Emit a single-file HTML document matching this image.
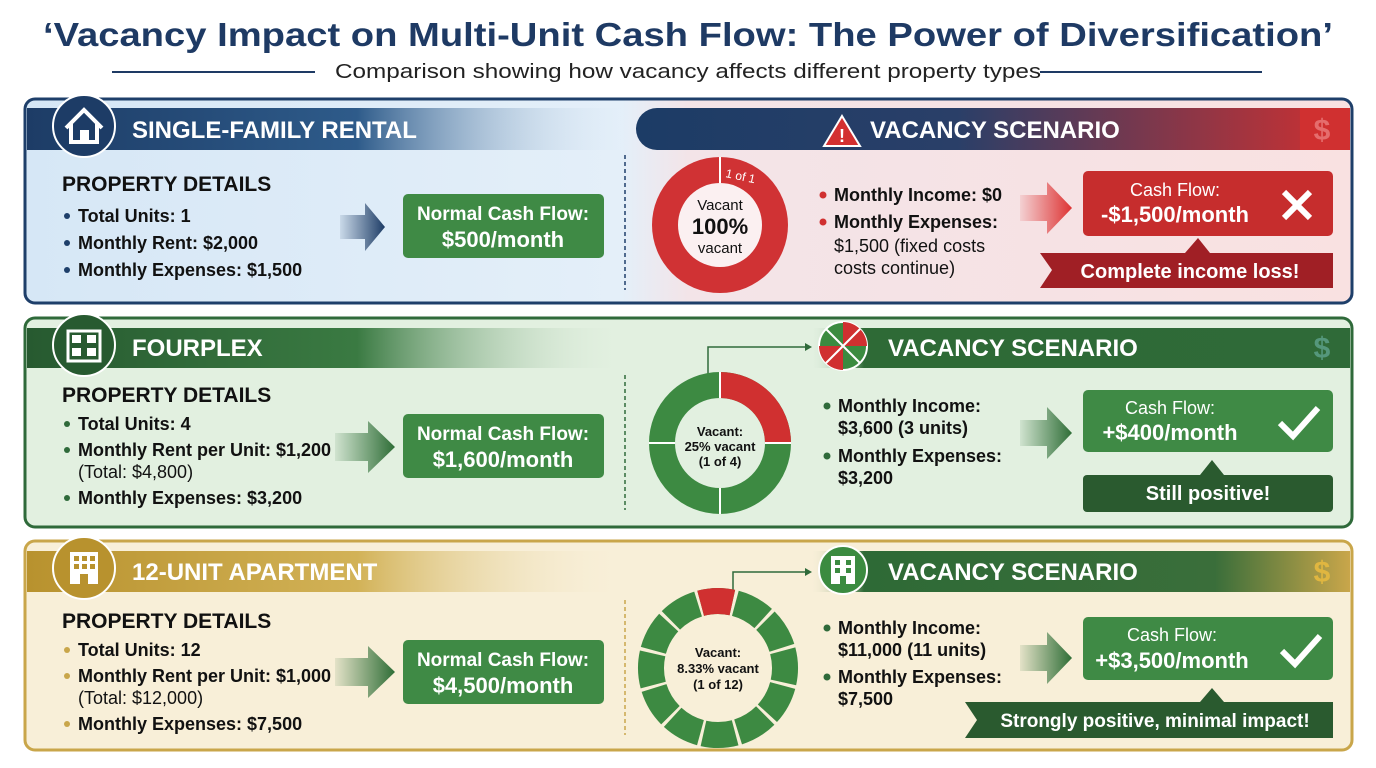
<!DOCTYPE html>
<html><head><meta charset="utf-8"><style>
html,body{margin:0;padding:0;background:#fff;}
svg{display:block;font-family:"Liberation Sans",sans-serif;}
</style></head><body>
<svg width="1376" height="768" viewBox="0 0 1376 768" xmlns="http://www.w3.org/2000/svg">
<defs>
<linearGradient id="hb1" x1="0" x2="1"><stop offset="0" stop-color="#1d3c66"/><stop offset="0.55" stop-color="#2e5b8a"/><stop offset="1" stop-color="#d8e8f6" stop-opacity="0"/></linearGradient>
<linearGradient id="hr1" x1="0" x2="1"><stop offset="0" stop-color="#1c3c66"/><stop offset="0.45" stop-color="#2a3f68"/><stop offset="1" stop-color="#d03030"/></linearGradient>
<linearGradient id="hb2" x1="0" x2="1"><stop offset="0" stop-color="#275a30"/><stop offset="0.55" stop-color="#3a7a42"/><stop offset="1" stop-color="#e2f0e0" stop-opacity="0"/></linearGradient>
<linearGradient id="hr2" x1="0" x2="1"><stop offset="0" stop-color="#e2f0e0" stop-opacity="0"/><stop offset="0.1" stop-color="#2e6a36"/><stop offset="1" stop-color="#2f6a38"/></linearGradient>
<linearGradient id="hb3" x1="0" x2="1"><stop offset="0" stop-color="#b8922e"/><stop offset="0.55" stop-color="#d2b257"/><stop offset="1" stop-color="#f8efd8" stop-opacity="0"/></linearGradient>
<linearGradient id="hr3" x1="0" x2="1"><stop offset="0" stop-color="#f8efd8" stop-opacity="0"/><stop offset="0.1" stop-color="#2e6a36"/><stop offset="0.75" stop-color="#3a6e3a"/><stop offset="1" stop-color="#c9a64a"/></linearGradient>
<linearGradient id="bg1" x1="0" x2="1"><stop offset="0" stop-color="#d6e7f6"/><stop offset="0.45" stop-color="#e4eff9"/><stop offset="0.5" stop-color="#f3e4e8"/><stop offset="1" stop-color="#f9e1e1"/></linearGradient>
<linearGradient id="aN" x1="0" x2="1"><stop offset="0" stop-color="#1d3c66" stop-opacity="0.1"/><stop offset="1" stop-color="#1d3c66"/></linearGradient>
<linearGradient id="aG" x1="0" x2="1"><stop offset="0" stop-color="#2f6e37" stop-opacity="0.1"/><stop offset="1" stop-color="#2f6e37"/></linearGradient>
<linearGradient id="aR" x1="0" x2="1"><stop offset="0" stop-color="#d33" stop-opacity="0.1"/><stop offset="1" stop-color="#d33"/></linearGradient>
</defs>

<text x="688" y="46" text-anchor="middle" font-size="33" font-weight="bold" fill="#1e3a64" textLength="1290" lengthAdjust="spacingAndGlyphs">‘Vacancy Impact on Multi-Unit Cash Flow: The Power of Diversification’</text>
<line x1="112" y1="72" x2="315" y2="72" stroke="#1e3a64" stroke-width="2"/>
<line x1="1040" y1="72" x2="1262" y2="72" stroke="#1e3a64" stroke-width="2"/>
<text x="688" y="78" text-anchor="middle" font-size="20" fill="#222" textLength="706" lengthAdjust="spacingAndGlyphs">Comparison showing how vacancy affects different property types</text>

<!-- PANEL 1 -->
<rect x="25" y="99" width="1327" height="204" rx="10" fill="url(#bg1)" stroke="#1e3f6a" stroke-width="3"/>
<rect x="27" y="108" width="600" height="42" fill="url(#hb1)"/>
<rect x="636" y="108" width="714" height="42" rx="21" fill="url(#hr1)"/>
<rect x="1300" y="108" width="50" height="42" fill="#d03030"/>
<circle cx="84" cy="126" r="31" fill="#1d3c66" stroke="#fff" stroke-width="2"/>
<path d="M66 128 L84 110 L102 128 M71 124 V142 H97 V124" fill="none" stroke="#fff" stroke-width="4"/>
<rect x="80" y="130" width="9" height="12" fill="#fff"/>
<text x="132" y="138" font-size="24" font-weight="bold" fill="#fff">SINGLE-FAMILY RENTAL</text>
<path d="M842 116 L860 146 H824 Z" fill="#d33030" stroke="#fff" stroke-width="2"/>
<text x="842" y="142" text-anchor="middle" font-size="18" font-weight="bold" fill="#fff">!</text>
<text x="870" y="138" font-size="24" font-weight="bold" fill="#fff">VACANCY SCENARIO</text>
<text x="1322" y="140" text-anchor="middle" font-size="30" font-weight="bold" fill="#e88" opacity="0.7">$</text>
<text x="62" y="191" font-size="21" font-weight="bold" fill="#111">PROPERTY DETAILS</text>
<g font-size="18" font-weight="bold" fill="#111">
<circle cx="67" cy="216" r="3" fill="#1e3f6a"/><text x="78" y="222">Total Units: 1</text>
<circle cx="67" cy="243" r="3" fill="#1e3f6a"/><text x="78" y="249">Monthly Rent: $2,000</text>
<circle cx="67" cy="270" r="3" fill="#1e3f6a"/><text x="78" y="276">Monthly Expenses: $1,500</text>
</g>
<path d="M340 215 H365 V203 L385 227 L365 251 V239 H340 Z" fill="url(#aN)"/>
<rect x="403" y="194" width="201" height="64" rx="5" fill="#3f8a45"/>
<text x="503" y="220" text-anchor="middle" font-size="19" font-weight="bold" fill="#fff">Normal Cash Flow:</text>
<text x="503" y="247" text-anchor="middle" font-size="22" font-weight="bold" fill="#fff">$500/month</text>
<line x1="625" y1="155" x2="625" y2="290" stroke="#1e3f6a" stroke-width="1.5" stroke-dasharray="4 3"/>
<circle cx="720" cy="225" r="68" fill="#d03234"/>
<circle cx="720" cy="225" r="42" fill="#fbf0f1"/>
<line x1="720" y1="157" x2="720" y2="183" stroke="#fff" stroke-width="2"/>
<text x="725" y="177" font-size="12" fill="#fff" transform="rotate(12 725 177)">1 of 1</text>
<text x="720" y="210" text-anchor="middle" font-size="15" fill="#111">Vacant</text>
<text x="720" y="234" text-anchor="middle" font-size="22" font-weight="bold" fill="#111">100%</text>
<text x="720" y="253" text-anchor="middle" font-size="15" fill="#111">vacant</text>
<g font-size="18" font-weight="bold" fill="#111">
<circle cx="823" cy="195" r="3.5" fill="#d03030"/><text x="834" y="201">Monthly Income: $0</text>
<circle cx="823" cy="222" r="3.5" fill="#d03030"/><text x="834" y="228">Monthly Expenses:</text>
<text x="834" y="252" font-weight="normal">$1,500 (fixed costs</text>
<text x="834" y="274" font-weight="normal">costs continue)</text>
</g>
<path d="M1020 195 H1047 V182 L1072 208 L1047 234 V221 H1020 Z" fill="url(#aR)"/>
<rect x="1083" y="171" width="250" height="65" rx="5" fill="#c62d2d"/>
<text x="1175" y="196" text-anchor="middle" font-size="18" fill="#fff">Cash Flow:</text>
<text x="1175" y="222" text-anchor="middle" font-size="22" font-weight="bold" fill="#fff">-$1,500/month</text>
<path d="M1284 192 L1310 218 M1310 192 L1284 218" stroke="#fff" stroke-width="6"/>
<path d="M1040 253 H1333 V288 H1040 L1052 270 Z" fill="#a01f25"/>
<path d="M1185 253 L1198 238 L1210 253 Z" fill="#a01f25"/>
<text x="1190" y="278" text-anchor="middle" font-size="20" font-weight="bold" fill="#fff">Complete income loss!</text>

<!-- PANEL 2 -->
<rect x="25" y="318" width="1327" height="209" rx="10" fill="#e2f0e0" stroke="#2f6a3a" stroke-width="3"/>
<rect x="27" y="328" width="600" height="40" fill="url(#hb2)"/>
<rect x="810" y="328" width="540" height="40" fill="url(#hr2)"/>
<circle cx="84" cy="345" r="31" fill="#275a30" stroke="#fff" stroke-width="2"/>
<rect x="68" y="331" width="32" height="30" fill="none" stroke="#fff" stroke-width="3"/>
<rect x="72" y="335" width="9" height="8" fill="#fff"/><rect x="87" y="335" width="9" height="8" fill="#fff"/>
<rect x="72" y="348" width="9" height="8" fill="#fff"/><rect x="87" y="348" width="9" height="8" fill="#fff"/>
<text x="132" y="356" font-size="24" font-weight="bold" fill="#fff">FOURPLEX</text>
<circle cx="843" cy="346" r="24" fill="#3b8b40" stroke="#fff" stroke-width="2"/>
<path d="M843 346 L843 322 A24 24 0 0 1 867 346 Z" fill="#d03030"/>
<path d="M843 346 L819 346 A24 24 0 0 0 843 370 Z" fill="#d03030"/>
<line x1="826" y1="329" x2="860" y2="363" stroke="#fff" stroke-width="2"/><line x1="860" y1="329" x2="826" y2="363" stroke="#fff" stroke-width="2"/>
<text x="888" y="356" font-size="24" font-weight="bold" fill="#fff">VACANCY SCENARIO</text>
<text x="1322" y="358" text-anchor="middle" font-size="30" font-weight="bold" fill="#6a9" opacity="0.7">$</text>
<polyline points="708,394 708,347 805,347" fill="none" stroke="#2f6a3a" stroke-width="1.5"/>
<path d="M805 343 L812 347 L805 351 Z" fill="#2f6a3a"/>
<text x="62" y="402" font-size="21" font-weight="bold" fill="#111">PROPERTY DETAILS</text>
<g font-size="18" font-weight="bold" fill="#111">
<circle cx="67" cy="424" r="3" fill="#2f6a3a"/><text x="78" y="430">Total Units: 4</text>
<circle cx="67" cy="450" r="3" fill="#2f6a3a"/><text x="78" y="456">Monthly Rent per Unit: $1,200</text>
<text x="78" y="478" font-weight="normal">(Total: $4,800)</text>
<circle cx="67" cy="498" r="3" fill="#2f6a3a"/><text x="78" y="504">Monthly Expenses: $3,200</text>
</g>
<path d="M335 433 H368 V421 L395 447 L368 473 V461 H335 Z" fill="url(#aG)"/>
<rect x="403" y="414" width="201" height="64" rx="5" fill="#3f8a45"/>
<text x="503" y="440" text-anchor="middle" font-size="19" font-weight="bold" fill="#fff">Normal Cash Flow:</text>
<text x="503" y="467" text-anchor="middle" font-size="22" font-weight="bold" fill="#fff">$1,600/month</text>
<line x1="625" y1="375" x2="625" y2="510" stroke="#2f6a3a" stroke-width="1.5" stroke-dasharray="4 3"/>
<circle cx="720" cy="443" r="58" fill="none" stroke="#3d8a42" stroke-width="26"/>
<path d="M720 372 A71 71 0 0 1 791 443 L765 443 A45 45 0 0 0 720 398 Z" fill="#d03030"/>
<line x1="720" y1="372" x2="720" y2="398" stroke="#fff" stroke-width="2"/>
<line x1="791" y1="443" x2="765" y2="443" stroke="#fff" stroke-width="2"/>
<line x1="649" y1="443" x2="675" y2="443" stroke="#fff" stroke-width="2"/>
<line x1="720" y1="514" x2="720" y2="488" stroke="#fff" stroke-width="2"/>
<text x="720" y="436" text-anchor="middle" font-size="13" font-weight="bold" fill="#111">Vacant:</text>
<text x="720" y="451" text-anchor="middle" font-size="13" font-weight="bold" fill="#111">25% vacant</text>
<text x="720" y="466" text-anchor="middle" font-size="13" font-weight="bold" fill="#111">(1 of 4)</text>
<g font-size="18" font-weight="bold" fill="#111">
<circle cx="827" cy="406" r="3.5" fill="#2f6a3a"/><text x="838" y="412">Monthly Income:</text>
<text x="838" y="434">$3,600 (3 units)</text>
<circle cx="827" cy="456" r="3.5" fill="#2f6a3a"/><text x="838" y="462">Monthly Expenses:</text>
<text x="838" y="484">$3,200</text>
</g>
<path d="M1020 420 H1047 V407 L1072 433 L1047 459 V446 H1020 Z" fill="url(#aG)"/>
<rect x="1083" y="390" width="250" height="62" rx="5" fill="#3f8a45"/>
<text x="1170" y="414" text-anchor="middle" font-size="18" fill="#fff">Cash Flow:</text>
<text x="1170" y="440" text-anchor="middle" font-size="22" font-weight="bold" fill="#fff">+$400/month</text>
<path d="M1280 423 L1293 436 L1318 408" fill="none" stroke="#fff" stroke-width="6"/>
<rect x="1083" y="475" width="250" height="37" rx="4" fill="#2a5a2f"/>
<path d="M1200 475 L1212 460 L1224 475 Z" fill="#2a5a2f"/>
<text x="1208" y="500" text-anchor="middle" font-size="20" font-weight="bold" fill="#fff">Still positive!</text>

<!-- PANEL 3 -->
<rect x="25" y="541" width="1327" height="209" rx="10" fill="#f8efd8" stroke="#c9a64a" stroke-width="3"/>
<rect x="27" y="551" width="600" height="41" fill="url(#hb3)"/>
<rect x="810" y="551" width="540" height="41" fill="url(#hr3)"/>
<circle cx="84" cy="568" r="31" fill="#b8922e" stroke="#fff" stroke-width="2"/>
<rect x="70" y="552" width="28" height="32" fill="#fff"/>
<g fill="#b8922e"><rect x="74" y="556" width="5" height="5"/><rect x="82" y="556" width="5" height="5"/><rect x="90" y="556" width="5" height="5"/><rect x="74" y="564" width="5" height="5"/><rect x="82" y="564" width="5" height="5"/><rect x="90" y="564" width="5" height="5"/><rect x="80" y="574" width="8" height="10"/></g>
<text x="132" y="580" font-size="24" font-weight="bold" fill="#fff">12-UNIT APARTMENT</text>
<circle cx="843" cy="570" r="24" fill="#3b8b40" stroke="#fff" stroke-width="2"/>
<rect x="831" y="556" width="24" height="28" fill="#fff"/>
<g fill="#3b8b40"><rect x="835" y="560" width="5" height="5"/><rect x="846" y="560" width="5" height="5"/><rect x="835" y="568" width="5" height="5"/><rect x="846" y="568" width="5" height="5"/><rect x="840" y="576" width="6" height="8"/></g>
<text x="888" y="580" font-size="24" font-weight="bold" fill="#fff">VACANCY SCENARIO</text>
<text x="1322" y="582" text-anchor="middle" font-size="30" font-weight="bold" fill="#e0b640">$</text>
<polyline points="733,594 733,572 805,572" fill="none" stroke="#2f6a3a" stroke-width="1.5"/>
<path d="M805 568 L812 572 L805 576 Z" fill="#2f6a3a"/>
<text x="62" y="628" font-size="21" font-weight="bold" fill="#111">PROPERTY DETAILS</text>
<g font-size="18" font-weight="bold" fill="#111">
<circle cx="67" cy="650" r="3" fill="#c9a64a"/><text x="78" y="656">Total Units: 12</text>
<circle cx="67" cy="676" r="3" fill="#c9a64a"/><text x="78" y="682">Monthly Rent per Unit: $1,000</text>
<text x="78" y="704" font-weight="normal">(Total: $12,000)</text>
<circle cx="67" cy="724" r="3" fill="#c9a64a"/><text x="78" y="730">Monthly Expenses: $7,500</text>
</g>
<path d="M335 658 H368 V646 L395 672 L368 698 V686 H335 Z" fill="url(#aG)"/>
<rect x="403" y="640" width="201" height="64" rx="5" fill="#3f8a45"/>
<text x="503" y="666" text-anchor="middle" font-size="19" font-weight="bold" fill="#fff">Normal Cash Flow:</text>
<text x="503" y="693" text-anchor="middle" font-size="22" font-weight="bold" fill="#fff">$4,500/month</text>
<line x1="625" y1="600" x2="625" y2="735" stroke="#c9a64a" stroke-width="1.5" stroke-dasharray="4 3"/>
<g transform="rotate(-105 718 668)">
<circle cx="718" cy="668" r="67" fill="none" stroke="#3d8a42" stroke-width="26" stroke-dasharray="32 3.1"/>
<circle cx="718" cy="668" r="67" fill="none" stroke="#d03030" stroke-width="26" stroke-dasharray="32 400"/>
</g>
<text x="718" y="657" text-anchor="middle" font-size="13" font-weight="bold" fill="#111">Vacant:</text>
<text x="718" y="673" text-anchor="middle" font-size="13" font-weight="bold" fill="#111">8.33% vacant</text>
<text x="718" y="689" text-anchor="middle" font-size="13" font-weight="bold" fill="#111">(1 of 12)</text>
<g font-size="18" font-weight="bold" fill="#111">
<circle cx="827" cy="628" r="3.5" fill="#2f6a3a"/><text x="838" y="634">Monthly Income:</text>
<text x="838" y="656">$11,000 (11 units)</text>
<circle cx="827" cy="677" r="3.5" fill="#2f6a3a"/><text x="838" y="683">Monthly Expenses:</text>
<text x="838" y="705">$7,500</text>
</g>
<path d="M1020 645 H1047 V632 L1072 658 L1047 684 V671 H1020 Z" fill="url(#aG)"/>
<rect x="1083" y="617" width="250" height="63" rx="5" fill="#3f8a45"/>
<text x="1172" y="641" text-anchor="middle" font-size="18" fill="#fff">Cash Flow:</text>
<text x="1172" y="668" text-anchor="middle" font-size="22" font-weight="bold" fill="#fff">+$3,500/month</text>
<path d="M1282 651 L1295 664 L1320 636" fill="none" stroke="#fff" stroke-width="6"/>
<path d="M965 702 H1333 V738 H965 L977 720 Z" fill="#2a5a2f"/>
<path d="M1200 702 L1212 688 L1224 702 Z" fill="#2a5a2f"/>
<text x="1155" y="727" text-anchor="middle" font-size="19" font-weight="bold" fill="#fff">Strongly positive, minimal impact!</text>
</svg>
</body></html>
